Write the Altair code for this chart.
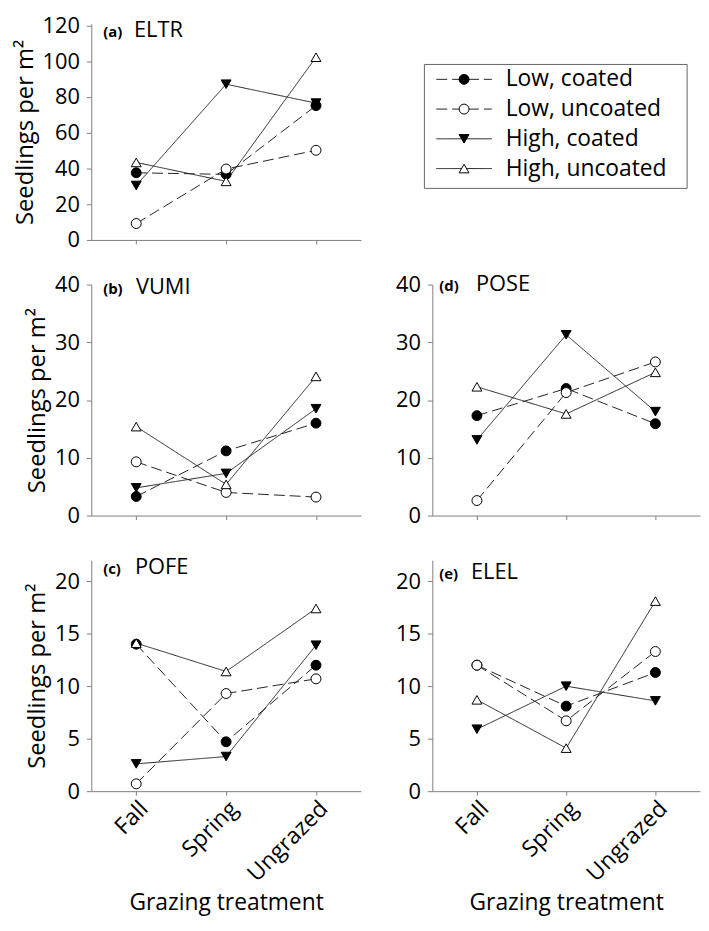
import altair as alt
import pandas as pd

FONT = "Open Sans"

periods = ["Fall", "Spring", "Ungrazed"]
series = ["Low, coated", "Low, uncoated", "High, coated", "High, uncoated"]
density = ["Low", "Low", "High", "High"]
shapes = ["circle", "circle", "triangle-down", "triangle-up"]
fills = ["black", "white", "black", "white"]
sizes = [100, 100, 120, 120]

# Seedlings per m2: values for Fall, Spring, Ungrazed
eltr_low_coated = [37.6, 36.7, 75.2]
eltr_low_uncoated = [9.2, 39.7, 50.2]
eltr_high_coated = [30.5, 87.2, 76.6]
eltr_high_uncoated = [43.4, 32.8, 102.3]

vumi_low_coated = [3.3, 11.2, 16.0]
vumi_low_uncoated = [9.3, 4.0, 3.2]
vumi_high_coated = [4.8, 7.3, 18.5]
vumi_high_uncoated = [15.4, 5.4, 24.1]

pose_low_coated = [17.3, 22.0, 15.9]
pose_low_uncoated = [2.6, 21.3, 26.6]
pose_high_coated = [13.1, 31.3, 18.0]
pose_high_uncoated = [22.3, 17.6, 24.8]

pofe_low_coated = [14.0, 4.7, 12.0]
pofe_low_uncoated = [0.7, 9.3, 10.7]
pofe_high_coated = [2.6, 3.3, 13.9]
pofe_high_uncoated = [14.1, 11.4, 17.4]

elel_low_coated = [12.0, 8.1, 11.3]
elel_low_uncoated = [12.0, 6.7, 13.3]
elel_high_coated = [5.9, 10.0, 8.6]
elel_high_uncoated = [8.7, 4.1, 18.1]

ticks_a = [0, 20, 40, 60, 80, 100, 120]
ticks_bd = [0, 10, 20, 30, 40]
ticks_ce = [0, 5, 10, 15, 20]

COL1_W, COL2_W = 272, 270
ROW_H = [218, 233, 233]


def make_df(vals):
    rows = []
    for s, d, v in zip(series, density, vals):
        for p, y in zip(periods, v):
            rows.append({"series": s, "density": d, "period": p, "value": y})
    return pd.DataFrame(rows)


def panel(letter, name, vals, ymax, ticks, width, height, ytitle, xlabels,
          lx, nx, ty):
    df = make_df(vals)
    xaxis = alt.Axis(
        title="Grazing treatment" if xlabels else None,
        labels=xlabels, tickSize=4, labelAngle=-45, labelAlign="right",
        labelBaseline="top", labelPadding=2, labelFontSize=23,
        titleFontSize=23, titlePadding=6,
    )
    yaxis = alt.Axis(
        title="Seedlings per m\u00b2" if ytitle else None,
        values=ticks, tickSize=5, labelPadding=7, titlePadding=5,
        labelFontSize=22, titleFontSize=24,
    )
    x = alt.X("period:N", sort=periods,
              scale=alt.Scale(type="point", domain=periods, padding=0.5),
              axis=xaxis)
    y = alt.Y("value:Q", scale=alt.Scale(domain=[0, ymax], nice=False, zero=True),
              axis=yaxis)
    lines = alt.Chart(df).mark_line(color="#222", strokeWidth=1).encode(
        x=x, y=y, detail="series:N",
        strokeDash=alt.StrokeDash("density:N", scale=alt.Scale(
            domain=["Low", "High"], range=[[11, 5], [1, 0]]), legend=None),
    )
    pts = alt.Chart(df).mark_point(filled=True, stroke="black", strokeWidth=1,
                                   opacity=1).encode(
        x=x, y=y,
        shape=alt.Shape("series:N", scale=alt.Scale(domain=series, range=shapes), legend=None),
        fill=alt.Fill("series:N", scale=alt.Scale(domain=series, range=fills), legend=None),
        size=alt.Size("series:N", scale=alt.Scale(domain=series, range=sizes), legend=None),
    )
    one = alt.Data(values=[{"k": 1}])
    t1 = alt.Chart(one).mark_text(align="left", baseline="alphabetic", fontSize=15,
                                  fontWeight="bold", font=FONT, color="black").encode(
        x=alt.value(lx), y=alt.value(ty), text=alt.value(letter))
    t2 = alt.Chart(one).mark_text(align="left", baseline="alphabetic", fontSize=22,
                                  font=FONT, color="black").encode(
        x=alt.value(nx), y=alt.value(ty), text=alt.value(name))
    return alt.layer(lines, pts, t1, t2).properties(width=width, height=height)


pa = panel("(a)", "ELTR",
           [eltr_low_coated, eltr_low_uncoated, eltr_high_coated, eltr_high_uncoated],
           121, ticks_a, COL1_W, ROW_H[0], True, False, 12, 43, 13)
pb = panel("(b)", "VUMI",
           [vumi_low_coated, vumi_low_uncoated, vumi_high_coated, vumi_high_uncoated],
           40, ticks_bd, COL1_W, ROW_H[1], True, False, 12, 45, 10)
pd_ = panel("(d)", "POSE",
            [pose_low_coated, pose_low_uncoated, pose_high_coated, pose_high_uncoated],
            40, ticks_bd, COL2_W, ROW_H[1], False, False, 7, 44, 6)
pc = panel("(c)", "POFE",
           [pofe_low_coated, pofe_low_uncoated, pofe_high_coated, pofe_high_uncoated],
           22, ticks_ce, COL1_W, ROW_H[2], True, True, 12, 44, 14)
pe = panel("(e)", "ELEL",
           [elel_low_coated, elel_low_uncoated, elel_high_coated, elel_high_uncoated],
           22, ticks_ce, COL2_W, ROW_H[2], False, True, 7, 39, 19)

# legend panel
leg_df = pd.DataFrame({"series": series, "density": density})
ly = alt.Y("series:N", sort=series,
           scale=alt.Scale(type="point", domain=series, range=[56, 146], padding=0),
           axis=None)
box = alt.Chart(alt.Data(values=[{"k": 1}])).mark_rect(
    fill="white", stroke="#666", strokeWidth=1).encode(
    x=alt.value(-8), x2=alt.value(257), y=alt.value(41), y2=alt.value(166))
lrules = alt.Chart(leg_df).mark_rule(color="#222", strokeWidth=1).encode(
    x=alt.value(4), x2=alt.value(60), y=ly,
    strokeDash=alt.StrokeDash("density:N", scale=alt.Scale(
        domain=["Low", "High"], range=[[11, 5], [1, 0]]), legend=None),
)
lpts = alt.Chart(leg_df).mark_point(filled=True, stroke="black", strokeWidth=1,
                                     opacity=1).encode(
    x=alt.value(32), y=ly,
    shape=alt.Shape("series:N", scale=alt.Scale(domain=series, range=shapes), legend=None),
    fill=alt.Fill("series:N", scale=alt.Scale(domain=series, range=fills), legend=None),
    size=alt.Size("series:N", scale=alt.Scale(domain=series, range=sizes), legend=None),
)
ltext = alt.Chart(leg_df).mark_text(align="left", baseline="middle", fontSize=23,
                                    font=FONT, color="black").encode(
    x=alt.value(74), y=ly, text="series:N")
legend = alt.layer(box, lrules, lpts, ltext).properties(width=COL2_W, height=ROW_H[0])

chart = alt.concat(pa, legend, pb, pd_, pc, pe, columns=2).properties(
    spacing={"row": 45, "column": 72},
    bounds="flush",
    padding={"left": 5, "top": 2, "right": 1, "bottom": 3},
    background="white",
).resolve_scale(
    x="independent", y="independent", strokeDash="independent",
    shape="independent", fill="independent", size="independent",
).configure(font=FONT).configure_view(stroke=None).configure_axis(
    grid=False, domainColor="#808080", tickColor="#808080", domainWidth=1,
    tickWidth=1, labelColor="black", titleColor="black", labelFont=FONT,
    titleFont=FONT, titleFontWeight="normal",
)

chart.save("out.html", embed_options={"renderer": "svg", "actions": False})
